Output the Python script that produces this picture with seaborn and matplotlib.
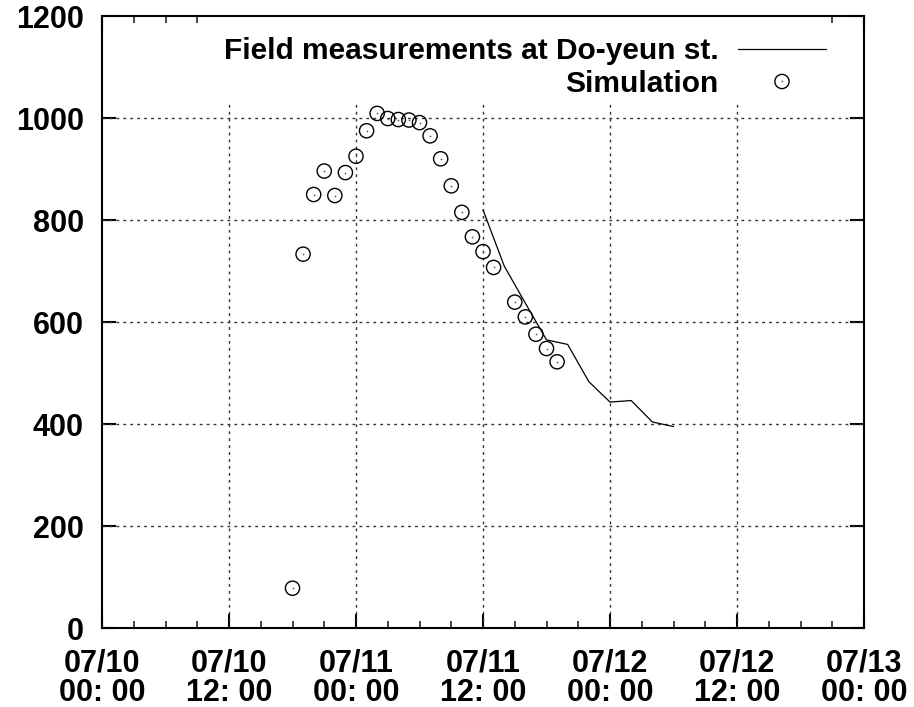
import matplotlib
matplotlib.use("Agg")
import matplotlib.pyplot as plt
import matplotlib.dates as mdates
from matplotlib.legend_handler import HandlerTuple
import seaborn as sns
import pandas as pd

# ---- data ----
sim_time = ["07-10 18:00", "07-10 19:00", "07-10 20:00", "07-10 21:00", "07-10 22:00",
            "07-10 23:00", "07-11 00:00", "07-11 01:00", "07-11 02:00", "07-11 03:00",
            "07-11 04:00", "07-11 05:00", "07-11 06:00", "07-11 07:00", "07-11 08:00",
            "07-11 09:00", "07-11 10:00", "07-11 11:00", "07-11 12:00", "07-11 13:00",
            "07-11 15:00", "07-11 16:00", "07-11 17:00", "07-11 18:00", "07-11 19:00"]
sim_value = [78, 733, 850, 896, 848, 893, 925, 975, 1009, 999, 997, 996, 991, 965, 920,
             867, 815, 767, 738, 707, 639, 610, 576, 548, 522]

field_time = ["07-11 12:00", "07-11 14:00", "07-11 16:00", "07-11 18:00", "07-11 20:00",
              "07-11 22:00", "07-12 00:00", "07-12 02:00", "07-12 04:00", "07-12 06:00"]
field_value = [820, 710, 637, 565, 556, 483, 443, 446, 404, 395]

year = "2006-"
x_start = "07-10 00:00"
x_end = "07-13 00:00"
y_ticks = [0, 200, 400, 600, 800, 1000, 1200]
field_label = "Field measurements at Do-yeun st."
sim_label = "Simulation"

# ---- style ----
sns.set_theme(style="white")
plt.rcParams['font.family'] = ['Liberation Sans', 'DejaVu Sans']
plt.rcParams['font.weight'] = 'bold'
plt.rcParams['text.color'] = 'black'
FS = 22

W, H = 914, 707
fig = plt.figure(figsize=(W / 100, H / 100), dpi=100)
ax = fig.add_axes([102 / W, 1 - 628 / H, (864 - 102) / W, (628 - 16) / H])

field_df = pd.DataFrame({"time": pd.to_datetime([year + t for t in field_time]),
                         "value": field_value})
sim_df = pd.DataFrame({"time": pd.to_datetime([year + t for t in sim_time]),
                       "value": sim_value})

t0 = pd.Timestamp(year + x_start)
t1 = pd.Timestamp(year + x_end)

# grid (dotted), drawn below the legend
grid_style = dict(color="#333333", lw=1.0, ls=(0, (2, 3)), zorder=1)
for yv in y_ticks[1:-1]:
    ax.axhline(yv, **grid_style)
for xv in pd.date_range(t0, t1, freq="12h")[1:-1]:
    ax.axvline(xv, **grid_style)

sns.lineplot(data=field_df, x="time", y="value", ax=ax, color="black",
             lw=0.9, legend=False, errorbar=None, zorder=3)
line_h = ax.lines[-1]
sns.scatterplot(data=sim_df, x="time", y="value", ax=ax, marker="o", s=105,
                facecolors="none", edgecolors="black", linewidths=1.0,
                legend=False, zorder=3)
circ_h = ax.collections[-1]
sns.scatterplot(data=sim_df, x="time", y="value", ax=ax, marker="o", s=1.5,
                color="#555555", linewidth=0, legend=False, zorder=3)
dot_h = ax.collections[-1]

ax.set_xlim(t0, t1)
ax.set_ylim(y_ticks[0], y_ticks[-1])
ax.set_yticks(y_ticks)
ax.set_xlabel("")
ax.set_ylabel("")

ax.xaxis.set_major_locator(mdates.HourLocator(byhour=[0, 12]))
ax.xaxis.set_minor_locator(mdates.HourLocator(interval=3))
ax.xaxis.set_major_formatter(mdates.DateFormatter("%m/%d\n%H: %M"))

for s in ax.spines.values():
    s.set_color("black")
    s.set_linewidth(1.5)
    s.set_visible(True)

ax.tick_params(axis="both", which="major", direction="in", length=10, width=1.5,
               top=True, right=True, bottom=True, left=True, labelsize=FS,
               colors="black")
ax.tick_params(axis="x", which="minor", direction="in", length=5, width=1.2,
               top=True, bottom=True)
ax.tick_params(axis="y", which="major", pad=13)
ax.tick_params(axis="x", which="major", pad=15)

leg = ax.legend([line_h, (circ_h, dot_h)], [field_label, sim_label],
                loc="upper right", bbox_to_anchor=(1 - 35 / 762, 1.0),
                markerfirst=False, frameon=True, facecolor="white",
                edgecolor="none", framealpha=1, fancybox=False,
                handlelength=2.95, handletextpad=0.65, labelspacing=0.15,
                borderaxespad=0, borderpad=0.1, fontsize=21.5,
                title=" ", title_fontproperties={"size": 11},
                scatteryoffsets=[0.5],
                handler_map={tuple: HandlerTuple(ndivide=1)})
leg.set_zorder(2.2)

fig.canvas.draw()
for t in ax.get_xticklabels():
    t.set_linespacing(0.95)

fig.savefig("out.png", dpi=100)
